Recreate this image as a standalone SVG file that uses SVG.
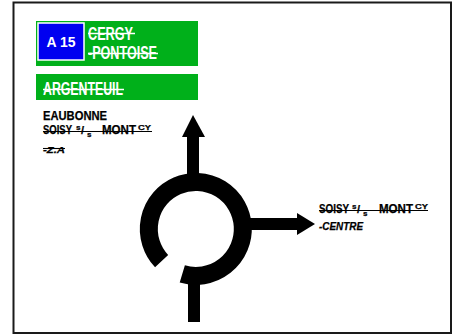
<svg xmlns="http://www.w3.org/2000/svg" width="460" height="335" viewBox="0 0 460 335">
<style>
.g{fill:#00b01a}
.w{fill:#fff;font-family:"Liberation Sans",Arial,sans-serif;font-weight:bold}
.k{fill:#000;stroke:#000;stroke-width:0.25;font-family:"Liberation Sans",Arial,sans-serif;font-weight:bold}
.i{font-style:italic}
.sw{stroke:#fff;stroke-width:1.3}
.sk{stroke:#000;stroke-width:1.1}
.road{fill:none;stroke:#000}
</style>
<rect x="0" y="0" width="460" height="335" fill="#fff"/>
<rect x="13.5" y="2.5" width="437.5" height="330.5" fill="#fff" stroke="#1a1a1a" stroke-width="2"/>
<g id="panel-a15">
<rect class="g" x="36" y="21" width="162" height="45"/>
<rect x="38" y="23" width="46" height="37" fill="#0000f0" stroke="#fff" stroke-width="1.5"/>
<text class="w" x="61" y="47" font-size="15.5" text-anchor="middle" textLength="29" lengthAdjust="spacingAndGlyphs">A 15</text>
<text class="w" x="88" y="40" font-size="18" textLength="45" lengthAdjust="spacingAndGlyphs">CERGY</text>
<text class="w" x="88" y="59" font-size="18" textLength="69" lengthAdjust="spacingAndGlyphs">-PONTOISE</text>
<line class="sw" x1="88" y1="33.5" x2="135" y2="33.5"/>
<line class="sw" x1="88" y1="53.5" x2="158" y2="53.5"/>
</g>
<g id="panel-argenteuil">
<rect class="g" x="36" y="74" width="162" height="26"/>
<text class="w" x="43" y="95" font-size="18" textLength="80" lengthAdjust="spacingAndGlyphs">ARGENTEUIL</text>
<line class="sw" x1="43" y1="89.5" x2="124" y2="89.5"/>
</g>
<g id="label-north">
<text class="k" x="43" y="119.5" font-size="12.5" textLength="64" lengthAdjust="spacingAndGlyphs">EAUBONNE</text>
<text class="k" x="43" y="134" font-size="12.5"><tspan x="43" textLength="29" lengthAdjust="spacingAndGlyphs">SOISY</tspan><tspan x="76" dy="-4" font-size="8">s</tspan><tspan x="81" dy="4" font-size="11">/</tspan><tspan x="87" dy="2.5" font-size="8">s</tspan><tspan x="102" dy="-2.5" textLength="34" lengthAdjust="spacingAndGlyphs">MONT</tspan><tspan x="138" dy="-4" font-size="8" textLength="13" lengthAdjust="spacingAndGlyphs">CY</tspan></text>
<line class="sk" x1="43" y1="131.5" x2="152" y2="131.5"/>
<text class="k i" x="43" y="153" font-size="9.5" textLength="22" lengthAdjust="spacingAndGlyphs">-Z.A</text>
<line class="sk" x1="43" y1="148.5" x2="65" y2="148.5"/>
</g>
<g id="label-east">
<text class="k" x="319" y="213" font-size="12.5"><tspan x="319" textLength="30" lengthAdjust="spacingAndGlyphs">SOISY</tspan><tspan x="352" dy="-4" font-size="8">s</tspan><tspan x="357" dy="4" font-size="11">/</tspan><tspan x="363" dy="2.5" font-size="8">s</tspan><tspan x="379" dy="-2.5" textLength="34" lengthAdjust="spacingAndGlyphs">MONT</tspan><tspan x="415" dy="-4" font-size="8" textLength="13" lengthAdjust="spacingAndGlyphs">CY</tspan></text>
<line class="sk" x1="319" y1="210.5" x2="428" y2="210.5"/>
<text class="k i" x="319" y="230" font-size="11" textLength="44" lengthAdjust="spacingAndGlyphs">-CENTRE</text>
</g>
<g id="connectors">
<path class="road" stroke-width="12" d="M193,136 V182"/>
<polygon points="182,137 193,115 205,137" fill="#000"/>
<path class="road" stroke-width="12" d="M240,224 H298"/>
<polygon points="297,213 315,224 297,235" fill="#000"/>
<path class="road" stroke-width="12" d="M194,270 V322"/>
<path class="road" stroke-width="18" d="M161.6,261.1 A47,47 0 1 1 182.3,273.9"/>
</g>
</svg>
